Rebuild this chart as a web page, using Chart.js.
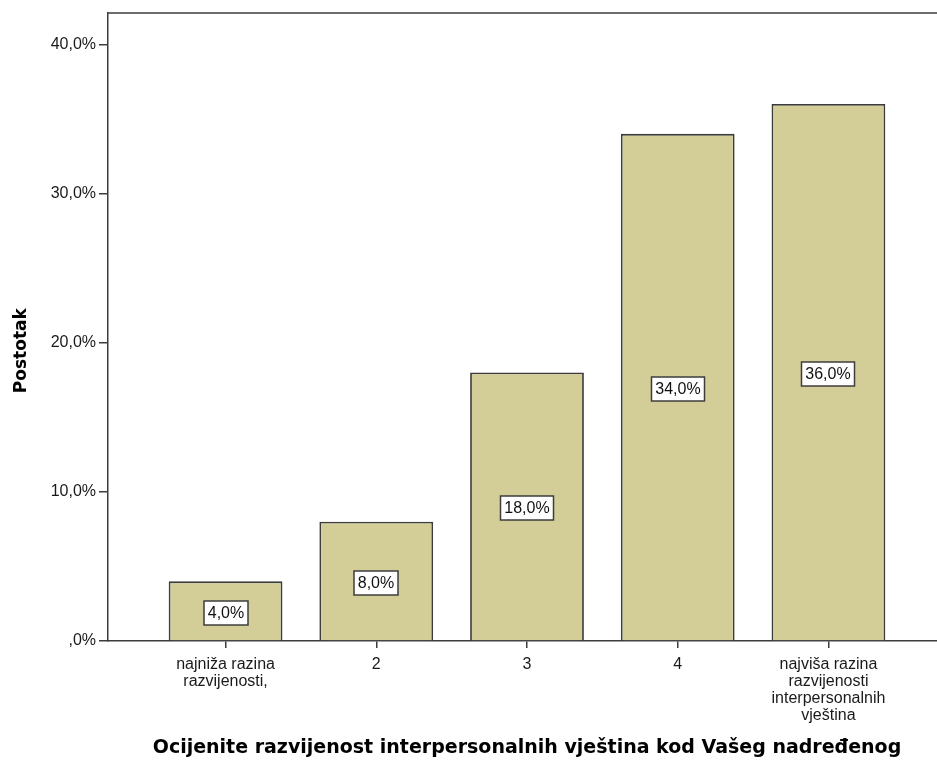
<!DOCTYPE html>
<html>
<head>
<meta charset="utf-8">
<script src="https://cdn.jsdelivr.net/npm/chart.js@4"></script>
<style>
  html, body { margin: 0; padding: 0; overflow: hidden; background: #fff; }
  #wrap { width: 950px; height: 762px; }
</style>
</head>
<body>
<div id="wrap"><canvas id="chart"></canvas></div>
<script>
  // categories of the x axis (multi-line labels as arrays)
  const categories = [
    ["najniža razina", "razvijenosti,"],
    "2",
    "3",
    "4",
    ["najviša razina", "razvijenosti", "interpersonalnih", "vještina"]
  ];
  const positions = [1, 2, 3, 4, 5];
  const percents = [4.0, 8.0, 18.0, 34.0, 36.0];
  const yTicks = [0, 10, 20, 30, 40];

  const fmt = v => (v === 0 ? ",0" : v.toFixed(1).replace(".", ",")) + "%";
  const lineColor = "#3c3c3c";
  const sans = '"Liberation Sans", Arial, sans-serif';

  // white boxed value labels in the middle of each bar + top frame line
  const boxLabels = {
    id: "boxLabels",
    afterDatasetsDraw(chart) {
      const ctx = chart.ctx;
      const area = chart.chartArea;
      ctx.save();
      ctx.strokeStyle = lineColor;
      ctx.lineWidth = 1.5;
      ctx.beginPath();
      ctx.moveTo(area.left, area.top);
      ctx.lineTo(area.right, area.top);
      ctx.stroke();

      ctx.font = "16px " + sans;
      ctx.textAlign = "center";
      ctx.textBaseline = "middle";
      chart.getDatasetMeta(0).data.forEach((bar, i) => {
        const txt = fmt(percents[i]);
        const w = Math.round(ctx.measureText(txt).width + 8), h = 24;
        const cx = Math.round(bar.x), cy = Math.round((bar.y + bar.base) / 2 + 2);
        ctx.fillStyle = "#fff";
        ctx.fillRect(cx - w / 2, cy - h / 2, w, h);
        ctx.strokeStyle = lineColor;
        ctx.lineWidth = 1.5;
        ctx.strokeRect(cx - w / 2, cy - h / 2, w, h);
        ctx.fillStyle = "#111";
        ctx.fillText(txt, cx, cy + 1);
      });
      ctx.restore();
    }
  };

  new Chart(document.getElementById("chart"), {
    type: "bar",
    data: {
      datasets: [{
        data: positions.map((x, i) => ({ x: x, y: percents[i] })),
        backgroundColor: "#d3ce97",
        borderColor: lineColor,
        borderWidth: 1.8,
        barPercentage: 0.755,
        categoryPercentage: 1
      }]
    },
    options: {
      responsive: true,
      maintainAspectRatio: false,
      animation: false,
      layout: { padding: { top: 13, right: 4, left: 0, bottom: 0 } },
      plugins: {
        legend: { display: false },
        tooltip: { enabled: false }
      },
      scales: {
        x: {
          type: "linear",
          offset: false,
          min: 0.22,
          max: 5.78,
          afterBuildTicks: s => { s.ticks = positions.map(v => ({ value: v })); },
          afterFit: s => { s.height = 121; },
          grid: { offset: false, drawOnChartArea: false, drawTicks: true, tickLength: 7, color: lineColor, lineWidth: 1.5 },
          border: { display: true, color: lineColor, width: 1.5 },
          ticks: {
            autoSkip: false,
            maxRotation: 0,
            padding: 8,
            color: "#1a1a1a",
            font: { family: sans, size: 16, lineHeight: 1.06 },
            callback: (v, i) => categories[i]
          },
          title: {
            display: true,
            text: "Ocijenite razvijenost interpersonalnih vještina kod Vašeg nadređenog",
            color: "#000",
            font: { family: '"DejaVu Sans", Verdana, sans-serif', size: 19, weight: "bold" },
            padding: { top: 0, bottom: 3 }
          }
        },
        y: {
          min: 0,
          max: 42.1,
          afterBuildTicks: s => { s.ticks = yTicks.map(v => ({ value: v })); },
          afterFit: s => { s.width = 108; },
          grid: { drawOnChartArea: false, drawTicks: true, tickLength: 9, color: lineColor, lineWidth: 1.5 },
          border: { display: true, color: lineColor, width: 1.5 },
          ticks: {
            padding: 3,
            color: "#1a1a1a",
            font: { family: sans, size: 16 },
            callback: v => fmt(v)
          },
          title: {
            display: true,
            text: "Postotak        ",
            color: "#000",
            font: { family: '"DejaVu Sans", Verdana, sans-serif', size: 17, weight: "bold" },
            padding: { top: 11, bottom: 4 }
          }
        }
      }
    },
    plugins: [boxLabels]
  });
</script>
</body>
</html>
